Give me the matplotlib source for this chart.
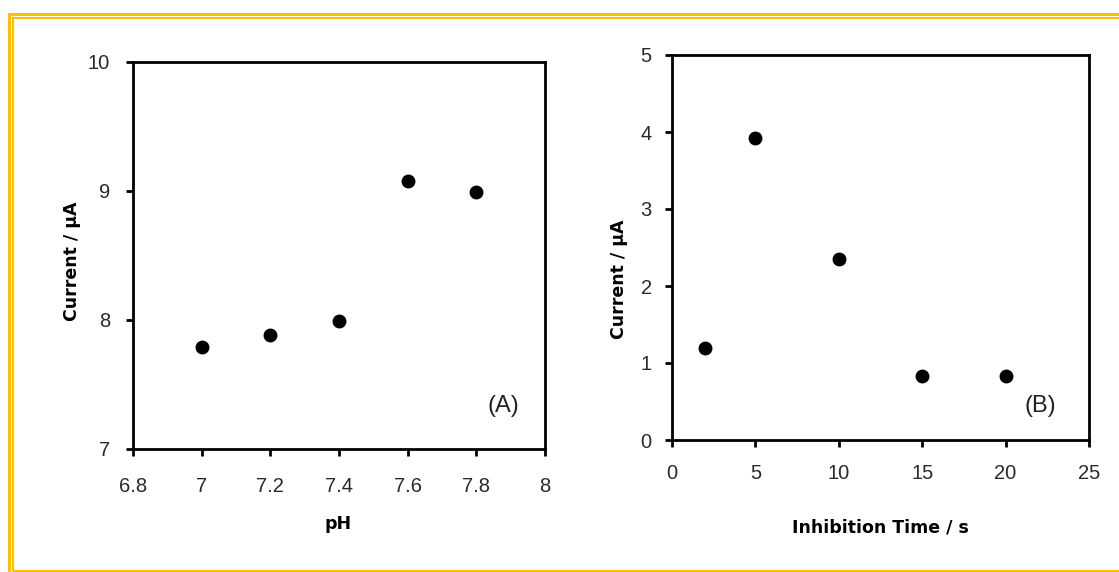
import matplotlib
matplotlib.use("Agg")
import matplotlib.pyplot as plt
from matplotlib.patches import Rectangle

# data
ph = [7.0, 7.2, 7.4, 7.6, 7.8]
current_ph = [7.79, 7.88, 7.99, 9.08, 8.99]

inhib_time = [2, 5, 10, 15, 20]
current_time = [1.2, 3.92, 2.35, 0.83, 0.83]

W, H = 1119, 572
fig = plt.figure(figsize=(W / 100, H / 100), dpi=100)
fig.patch.set_facecolor("white")

tick_font = {"family": "Liberation Sans", "size": 14.5}
label_font = {"family": "DejaVu Sans", "weight": "bold", "size": 12.5}


def px(x, y):
    return x / W, 1 - y / H


def style_axes(ax, xpad, ypad):
    for s in ax.spines.values():
        s.set_linewidth(2)
        s.set_color("black")
    ax.tick_params(direction="out", length=5, width=2,
                   top=False, right=False)
    ax.tick_params(axis="x", pad=xpad)
    ax.tick_params(axis="y", pad=ypad)
    for lab in ax.get_xticklabels() + ax.get_yticklabels():
        lab.set_fontfamily(tick_font["family"])
        lab.set_fontsize(tick_font["size"])
        lab.set_color("#2a2a2a")


# panel A
axA = fig.add_axes([133 / W, 1 - 449 / H, (545 - 133) / W, (449 - 62) / H])
axA.plot(ph, current_ph, "o", color="black", ms=9)
axA.set_xlim(6.8, 8)
axA.set_ylim(7, 10)
axA.set_xticks([6.8, 7, 7.2, 7.4, 7.6, 7.8, 8])
axA.set_xticklabels(["6.8", "7", "7.2", "7.4", "7.6", "7.8", "8"])
axA.set_yticks([7, 8, 9, 10])
style_axes(axA, 15, 11.5)
fig.text(*px(503, 406), "(A)", ha="center", va="center",
         family="Liberation Sans", fontsize=17, color="#222222")

# panel B
axB = fig.add_axes([672 / W, 1 - 440 / H, (1089 - 672) / W, (440 - 55) / H])
axB.plot(inhib_time, current_time, "o", color="black", ms=9)
axB.set_xlim(0, 25)
axB.set_ylim(0, 5)
axB.set_xticks([0, 5, 10, 15, 20, 25])
axB.set_yticks([0, 1, 2, 3, 4, 5])
style_axes(axB, 12, 9.5)
fig.text(*px(1040, 406), "(B)", ha="center", va="center",
         family="Liberation Sans", fontsize=17, color="#222222")

# axis labels
fig.text(*px(72, 261), "Current / μA", rotation=90, ha="center", va="center",
         **label_font)
fig.text(*px(338, 524), "pH", ha="center", va="center", **label_font)
fig.text(*px(619, 279), "Current / μA", rotation=90, ha="center", va="center",
         **label_font)
fig.text(*px(880, 528), "Inhibition Time / s", ha="center", va="center",
         **label_font)

# double gold border
gold = "#FFC000"
outer = Rectangle(px(8.5, 600), (1200 - 8.5) / W, (600 - 13.5) / H,
                  transform=fig.transFigure, fill=False, edgecolor=gold,
                  linewidth=2.2)
inner = Rectangle(px(13, 570.5), (1200 - 13) / W, (570.5 - 18) / H,
                  transform=fig.transFigure, fill=False, edgecolor=gold,
                  linewidth=1.5)
fig.add_artist(outer)
fig.add_artist(inner)

fig.savefig("out.png", dpi=100)
